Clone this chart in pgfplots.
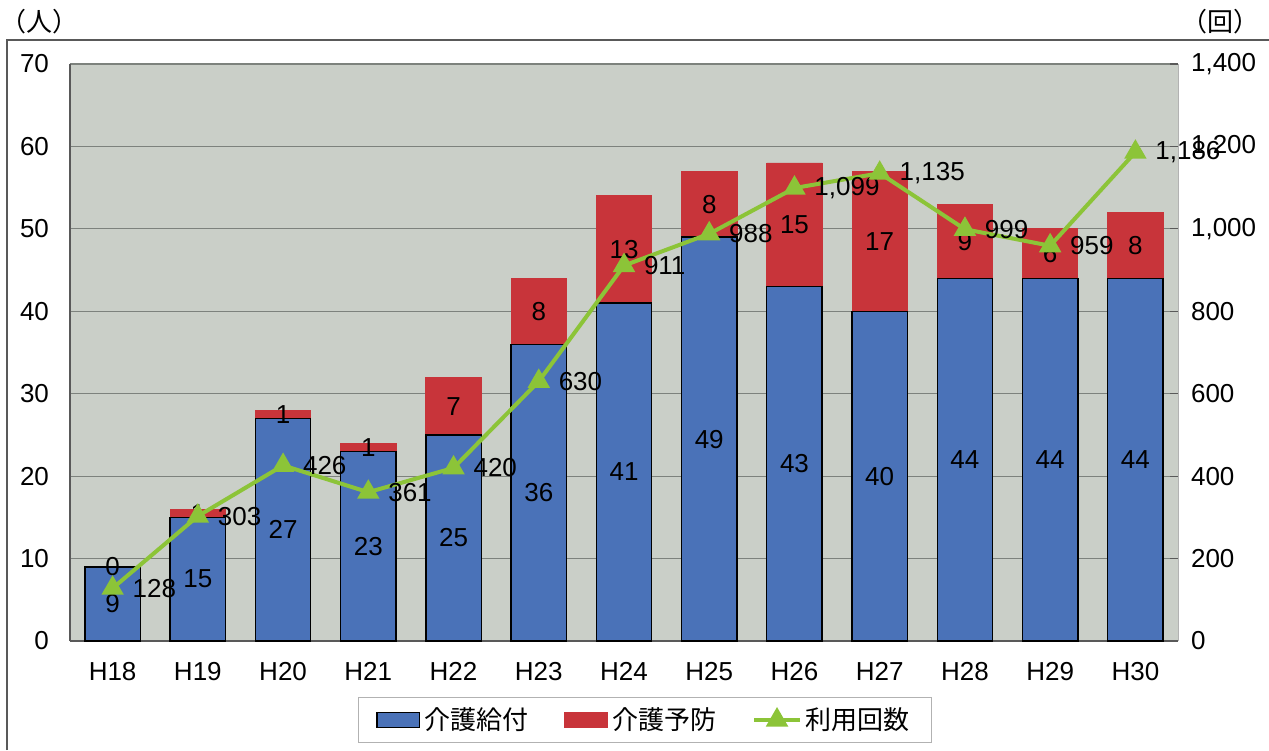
\documentclass[border=0pt]{standalone}
\usepackage{pgfplots}
\pgfplotsset{compat=1.18}
\usepackage{pgfplotstable}
\usepackage{fontspec}
\setmainfont{Liberation Sans}
\newfontfamily\jp{Noto Sans CJK JP}
\definecolor{barblue}{RGB}{74,114,184}
\definecolor{barred}{RGB}{200,52,58}
\definecolor{linegreen}{RGB}{140,196,56}
\definecolor{bg}{RGB}{202,207,200}
\definecolor{gridc}{RGB}{125,130,125}

\pgfplotstableread{
x kyufu yobo kaisu
0 9 0 128
1 15 1 303
2 27 1 426
3 23 1 361
4 25 7 420
5 36 8 630
6 41 13 911
7 49 8 988
8 43 15 1099
9 40 17 1135
10 44 9 999
11 44 6 959
12 44 8 1186
}\data
\pgfplotstablecreatecol[create col/expr={\thisrow{kyufu}/2}]{kmid}\data
\pgfplotstablecreatecol[create col/expr={\thisrow{kyufu}+\thisrow{yobo}/2}]{ymid}\data

\pgfplotsset{
  common/.style={
    scale only axis, width=554pt, height=288.5pt,
    xmin=-0.5, xmax=12.5,
    at={(0,0)}, anchor=south west,
    /pgf/number format/assume math mode=true,
    /pgf/number format/1000 sep={,},
    tick label style={font=\fontsize{13}{15}\selectfont},
  },
  barleg/.style={legend image code/.code={\draw[#1] (0cm,-0.13cm) rectangle (0.75cm,0.13cm);}},
  lineleg/.style={legend image code/.code={%
    \draw[#1, mark=none] (0cm,0cm) -- (0.8cm,0cm);
    \draw[#1, only marks] plot coordinates {(0.4cm,0cm)};}},
}

\begin{document}
\begin{tikzpicture}
\begin{axis}[common, name=ax,
  ybar stacked, bar width=0.65,
  ymin=0, ymax=70, ytick={0,10,...,70},
  xtick={0,...,12},
  xticklabels={H18,H19,H20,H21,H22,H23,H24,H25,H26,H27,H28,H29,H30},
  axis background/.style={fill=bg},
  ymajorgrids, grid style={gridc, line width=0.6pt},
  axis line style={draw=gray!70!black, line width=0.6pt},
  major tick length=0pt,
  yticklabel style={xshift=-7pt},
  xticklabel style={yshift=-7pt},
  axis y line*=left, axis x line*=bottom,
]
\addplot[fill=barblue, draw=black, line width=0.7pt] table[x=x,y=kyufu]{\data};
\addplot[fill=barred, draw=barred] table[x=x,y=yobo]{\data};
\end{axis}

\begin{axis}[common, hide axis, ymin=0, ymax=70,
  every node near coord/.append style={anchor=center, font=\fontsize{13}{15}\selectfont, text=black, inner sep=0pt},
]
\addplot[only marks, mark=none, nodes near coords, point meta=explicit] table[x=x,y=kmid,meta=kyufu]{\data};
\addplot[only marks, mark=none, nodes near coords, point meta=explicit] table[x=x,y=ymid,meta=yobo]{\data};
\end{axis}

\begin{axis}[common,
  ymin=0, ymax=1400, ytick={0,200,...,1400},
  axis y line*=right, axis x line=none,
  axis line style={draw=gray!60, line width=0.5pt},
  ytick style={draw=gray!70!black, line width=0.6pt},
  major tick length=4pt,
  yticklabel style={xshift=3pt},
  every node near coord/.append style={anchor=west, xshift=8pt, font=\fontsize{13}{15}\selectfont, text=black, inner sep=1pt},
  legend columns=3,
  legend style={at={(0.519,-0.137)}, anchor=center, draw=gray!60, line width=0.6pt,
    font=\fontsize{13}{15}\selectfont\jp, inner xsep=9pt, inner ysep=3pt,
    /tikz/every even column/.append style={column sep=16pt}},
]
\addlegendimage{barleg, fill=barblue, draw=black, line width=0.7pt}
\addlegendentry{介護給付}
\addlegendimage{barleg, fill=barred, draw=barred}
\addlegendentry{介護予防}
\addplot[lineleg, linegreen, line width=2pt, mark=triangle*, mark size=4.5pt,
  mark options={fill=linegreen, draw=linegreen},
  nodes near coords, point meta=explicit,
  nodes near coords={\pgfmathprintnumber[1000 sep={,}]{\pgfplotspointmeta}}]
  table[x=x,y=kaisu,meta=kaisu]{\data};
\addlegendentry{利用回数}
\end{axis}

\node[font=\fontsize{13}{15}\selectfont\jp] at ([shift={(-15pt,21pt)}]ax.north west) {（人）};
\node[font=\fontsize{13}{15}\selectfont\jp] at ([shift={(21pt,21pt)}]ax.north east) {（回）};
\draw[gray!70!black, line width=0.6pt] ([shift={(-31.5pt,-54.5pt)}]ax.south west) -- ([shift={(-31.5pt,12pt)}]ax.north west) -- ([shift={(45.5pt,12pt)}]ax.north east);

\pgfresetboundingbox
\path[use as bounding box] ([shift={(-35pt,-54.5pt)}]ax.south west) rectangle ([shift={(45.5pt,32pt)}]ax.north east);
\end{tikzpicture}
\end{document}
